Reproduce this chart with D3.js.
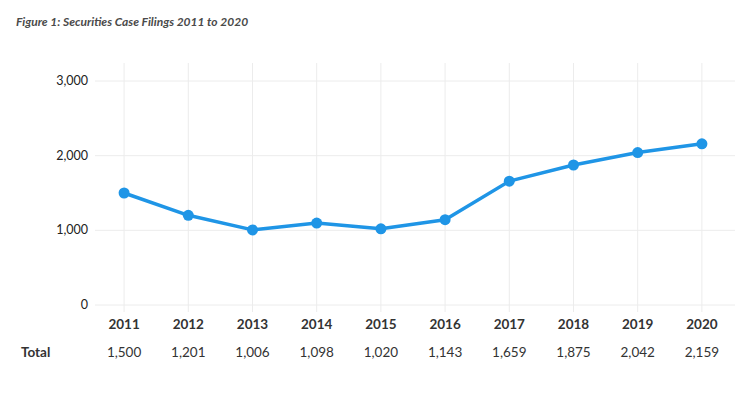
<!DOCTYPE html>
<html><head><meta charset="utf-8">
<script src="https://cdn.jsdelivr.net/npm/d3@7"></script>
<style>
html,body{margin:0;padding:0;background:#fff;}
svg text{font-family:Lato,"Open Sans",sans-serif;}
</style></head>
<body><svg id="c" width="750" height="394"></svg>
<script>
const years = ["2011","2012","2013","2014","2015","2016","2017","2018","2019","2020"];
const totals = [1500,1201,1006,1098,1020,1143,1659,1875,2042,2159];
const yTicks = [0,1000,2000,3000];
const title = "Figure 1: Securities Case Filings 2011 to 2020";
const rowLabel = "Total";

const svg = d3.select("#c");
const x = d3.scaleBand().domain(years).range([92,734]).padding(0);
const y = d3.scaleLinear().domain([0,3000]).range([305,81]);
const fmt = d3.format(",");
const cx = d => x(d) + x.bandwidth()/2;

svg.append("text").attr("x",16).attr("y",26).attr("font-size",12)
  .attr("font-style","italic").attr("font-weight","bold").attr("fill","#4a4a4a").text(title);

// horizontal grid
svg.append("g").selectAll("line").data(yTicks).join("line")
  .attr("x1",95).attr("x2",735).attr("y1",d=>y(d)).attr("y2",d=>y(d))
  .attr("stroke","#ececec").attr("stroke-width",1);
// vertical grid
svg.append("g").selectAll("line").data(years).join("line")
  .attr("x1",cx).attr("x2",cx).attr("y1",63).attr("y2",312)
  .attr("stroke","#ececec").attr("stroke-width",1);

// y labels
svg.append("g").selectAll("text").data(yTicks).join("text")
  .attr("x",88).attr("y",d=>y(d)+4).attr("text-anchor","end")
  .attr("font-size",12.5).attr("fill","#222").text(d=>fmt(d));

// line
const line = d3.line().x((d,i)=>cx(years[i])).y(d=>y(d));
svg.append("path").datum(totals).attr("d",line).attr("fill","none")
  .attr("stroke","#1f95e6").attr("stroke-width",3.5).attr("stroke-linejoin","round");
svg.append("g").selectAll("circle").data(totals).join("circle")
  .attr("cx",(d,i)=>cx(years[i])).attr("cy",d=>y(d)).attr("r",5.5).attr("fill","#1f95e6");

// year labels
svg.append("g").selectAll("text").data(years).join("text")
  .attr("x",cx).attr("y",329).attr("text-anchor","middle")
  .attr("font-size",13.5).attr("font-weight","bold").attr("fill","#333").text(d=>d);

// total row
svg.append("text").attr("x",21).attr("y",357).attr("font-size",13.5)
  .attr("font-weight","bold").attr("fill","#333").text(rowLabel);
svg.append("g").selectAll("text").data(totals).join("text")
  .attr("x",(d,i)=>cx(years[i])).attr("y",357).attr("text-anchor","middle")
  .attr("font-size",13.5).attr("fill","#333").text(d=>fmt(d));
</script></body></html>
